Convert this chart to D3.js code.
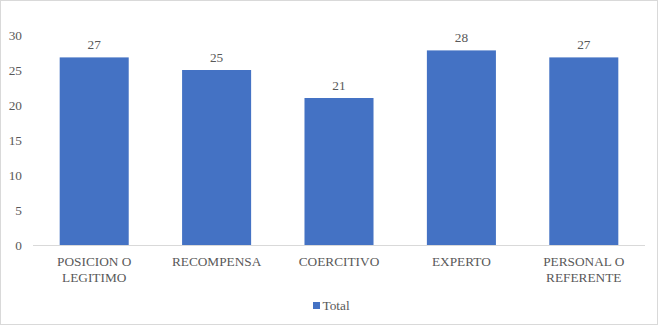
<!DOCTYPE html>
<html><head><meta charset="utf-8">
<script src="https://cdn.jsdelivr.net/npm/d3@7"></script>
<style>body{margin:0;background:#fff}svg{display:block}</style>
</head><body><svg id="c" width="663" height="327"></svg>
<script>
const categories = [["POSICION O","LEGITIMO"],["RECOMPENSA"],["COERCITIVO"],["EXPERTO"],["PERSONAL O","REFERENTE"]];
const values = [26.8, 25, 21, 27.8, 26.8];
const yTicks = [0,5,10,15,20,25,30];
const seriesName = "Total";

const FONT = "'Liberation Serif', 'Times New Roman', Times, serif";
const FS = 13.3;
const svg = d3.select("#c");
svg.append("rect").attr("x",0.5).attr("y",0.5).attr("width",657).attr("height",324).attr("fill","#fff").attr("stroke","#d9d9d9");
const m = {left:33, right:645, top:35, bottom:245};
const keys = categories.map((d,i)=>i);
const x = d3.scaleBand().domain(keys).range([m.left,m.right]).paddingInner(0.436).paddingOuter(0.218);
const y = d3.scaleLinear().domain([0,30]).range([m.bottom,m.top]);

const ya = svg.append("g").attr("transform",`translate(${m.left},0)`).call(d3.axisLeft(y).tickValues(yTicks).tickSize(0).tickPadding(11));
ya.attr("font-family",null);
ya.select(".domain").remove();
ya.selectAll("text").attr("font-size",FS).style("font-family",FONT).attr("fill","#595959");

svg.selectAll(".bar").data(values).join("rect").attr("class","bar")
 .attr("x",(d,i)=>x(i)).attr("width",x.bandwidth())
 .attr("y",d=>y(d)).attr("height",d=>y(0)-y(d)).attr("fill","#4472C4");

svg.append("line").attr("x1",m.left).attr("x2",m.right).attr("y1",y(0)+0.5).attr("y2",y(0)+0.5).attr("stroke","#d9d9d9");

svg.selectAll(".lbl").data(values).join("text").attr("class","lbl")
 .attr("x",(d,i)=>x(i)+x.bandwidth()/2).attr("y",d=>y(d)-8)
 .attr("text-anchor","middle").attr("font-size",FS).style("font-family",FONT).attr("fill","#595959").text(d=>d3.format(".0f")(d));

categories.forEach((lines,i)=>{
  const t = svg.append("text").attr("text-anchor","middle").attr("font-size",FS).style("font-family",FONT).attr("fill","#595959")
   .attr("x",x(i)+x.bandwidth()/2).attr("y",266);
  lines.forEach((l,j)=>t.append("tspan").attr("x",x(i)+x.bandwidth()/2).attr("dy",j?16:0).text(l));
});

svg.append("rect").attr("x",313).attr("y",302).attr("width",7).attr("height",7).attr("fill","#4472C4");
svg.append("text").attr("x",322.5).attr("y",309.5).attr("font-size",FS).style("font-family",FONT).attr("fill","#595959").text(seriesName);
</script></body></html>
